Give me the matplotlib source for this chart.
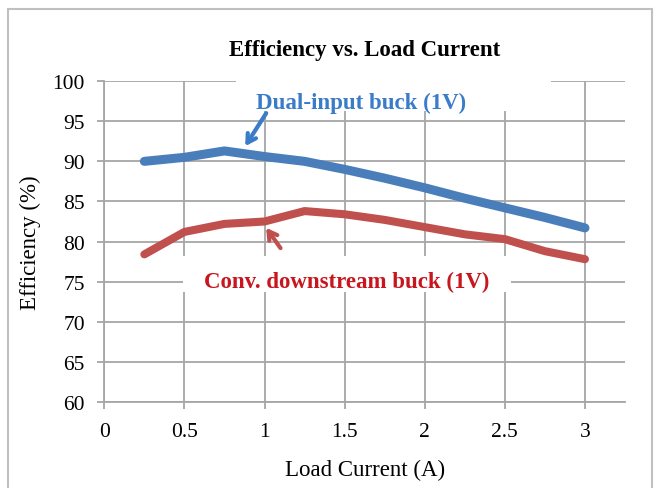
import matplotlib.pyplot as plt
from matplotlib.patches import Rectangle

# Load current (A)
current = [0.25, 0.5, 0.75, 1.0, 1.25, 1.5, 1.75, 2.0, 2.25, 2.5, 2.75, 3.0]
# Efficiency (%)
dual_input = [90.0, 90.5, 91.3, 90.6, 90.0, 89.0, 87.9, 86.7, 85.4, 84.2, 83.0, 81.7]
conv_buck = [78.4, 81.2, 82.2, 82.5, 83.8, 83.4, 82.7, 81.8, 80.9, 80.3, 78.8, 77.8]

xticks = [0, 0.5, 1, 1.5, 2, 2.5, 3]
xticklabels = ['0', '0.5', '1', '1.5', '2', '2.5', '3']
yticks = [60, 65, 70, 75, 80, 85, 90, 95, 100]

plt.rcParams['font.family'] = ['Liberation Serif', 'DejaVu Serif']

fig = plt.figure(figsize=(6.6, 4.89), dpi=100)
ax = fig.add_axes([0.158, 0.176, 0.789, 0.656])

grid_color = '#a6a6a6'
ax.set_xlim(0, 3.25)
ax.set_ylim(60, 100)
ax.set_xticks(xticks)
ax.set_xticklabels(xticklabels)
ax.set_yticks(yticks)
ax.grid(True, color=grid_color, linewidth=1.3, zorder=0)
ax.set_axisbelow(True)
for side in ['top', 'right']:
    ax.spines[side].set_visible(False)
for side in ['left', 'bottom']:
    ax.spines[side].set_color(grid_color)
    ax.spines[side].set_linewidth(1.3)
ax.tick_params(direction='out', length=5, width=1.3, color=grid_color,
               labelsize=15.5)
ax.tick_params(axis='x', pad=9.5)
ax.tick_params(axis='y', pad=9)

# white boxes behind the labels hide the gridlines
ax.add_patch(Rectangle((0.82, 96.3), 1.97, 4.3, facecolor='white',
                       edgecolor='none', zorder=1, clip_on=False))
ax.add_patch(Rectangle((0.49, 73.7), 2.05, 4.5, facecolor='white',
                       edgecolor='none', zorder=1))

ax.plot(current, dual_input, color='#4a7ebb', linewidth=6.5,
        solid_capstyle='round', zorder=3)
ax.plot(current, conv_buck, color='#c0504d', linewidth=5.8,
        solid_capstyle='round', zorder=3)

ax.text(1.6, 97.4, 'Dual-input buck (1V)', color='#3a7cc8', fontsize=16.5,
        fontweight='bold', ha='center', va='center', zorder=4)
ax.text(1.51, 75.0, 'Conv. downstream buck (1V)', color='#c8161e',
        fontsize=16.5, fontweight='bold', ha='center', va='center', zorder=4)

ax.annotate('', xy=(0.87, 91.6), xytext=(1.02, 96.3),
            arrowprops=dict(arrowstyle='->,head_length=0.6,head_width=0.35',
                            color='#3a7cc8', lw=3), zorder=4)
ax.annotate('', xy=(1.0, 82.0), xytext=(1.11, 78.9),
            arrowprops=dict(arrowstyle='->,head_length=0.6,head_width=0.35',
                            color='#c0504d', lw=3), zorder=4)

ax.set_title('Efficiency vs. Load Current', fontsize=16.5, fontweight='bold',
             pad=19)
ax.set_xlabel('Load Current (A)', fontsize=16.5, labelpad=13)
ax.set_ylabel('Efficiency (%)', fontsize=16.5, labelpad=8)

# outer chart frame
fig.patches.append(Rectangle((8 / 660, -0.05), 644 / 660, 1 - 10 / 489 + 0.05,
                             transform=fig.transFigure, fill=False,
                             edgecolor='#c0c0c0', linewidth=1.5))

fig.savefig('out.png', dpi=100)
